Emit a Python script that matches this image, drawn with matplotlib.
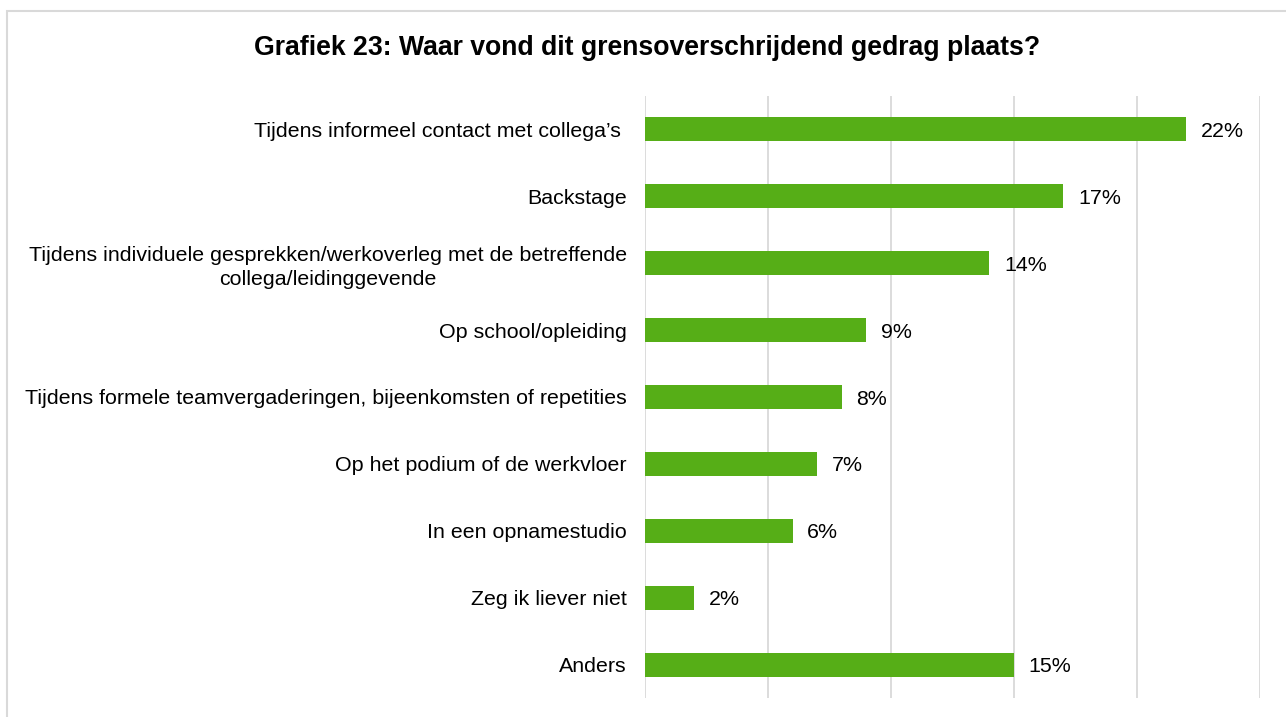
import matplotlib
matplotlib.use("Agg")
import matplotlib.pyplot as plt
from matplotlib.patches import Rectangle

plt.rcParams['font.family'] = ['Liberation Sans', 'DejaVu Sans']

title = "Grafiek 23: Waar vond dit grensoverschrijdend gedrag plaats?"
categories = [
    "Tijdens informeel contact met collega\u2019s ",
    "Backstage",
    "Tijdens individuele gesprekken/werkoverleg met de betreffende\ncollega/leidinggevende",
    "Op school/opleiding",
    "Tijdens formele teamvergaderingen, bijeenkomsten of repetities",
    "Op het podium of de werkvloer",
    "In een opnamestudio",
    "Zeg ik liever niet",
    "Anders",
]
values = [22, 17, 14, 9, 8, 7, 6, 2, 15]
xticks = [0, 5, 10, 15, 20, 25]

bar_color = "#56AE17"
grid_color = "#D9D9D9"

W, H = 1286, 717
fig = plt.figure(figsize=(W / 100, H / 100), dpi=100)

# outer frame of the chart area
fig.add_artist(Rectangle((7 / W, -0.05), 1.1, 1 - 11 / H + 0.05,
                         transform=fig.transFigure, fill=False,
                         edgecolor=grid_color, linewidth=1.5))

ax = fig.add_axes([645 / W, 1 - 698 / H, (1260 - 645) / W, (698 - 96) / H])

pos = list(range(len(categories)))
ax.barh(pos, values, height=0.36, color=bar_color, zorder=3)

for p, v in zip(pos, values):
    ax.text(v + 0.6, p + 0.03, f"{v}%", va="center", ha="left",
            fontsize=15.4, color="black")

ax.set_xlim(0, 25)
ax.set_ylim(len(categories) - 0.5, -0.5)
ax.set_xticks(xticks)
ax.xaxis.grid(True, color=grid_color, linewidth=1.3, zorder=0)
ax.tick_params(axis="x", which="both", length=0, labelbottom=False)
ax.set_yticks(pos)
ax.set_yticklabels(categories, fontsize=15.4, multialignment="center",
                   linespacing=1.3)
ax.tick_params(axis="y", length=0, pad=13)
for s in ax.spines.values():
    s.set_visible(False)

fig.text(647 / W, 1 - 48 / H, title, ha="center", va="center",
         fontsize=19.2, fontweight="bold")

fig.savefig("out.png", dpi=100)
